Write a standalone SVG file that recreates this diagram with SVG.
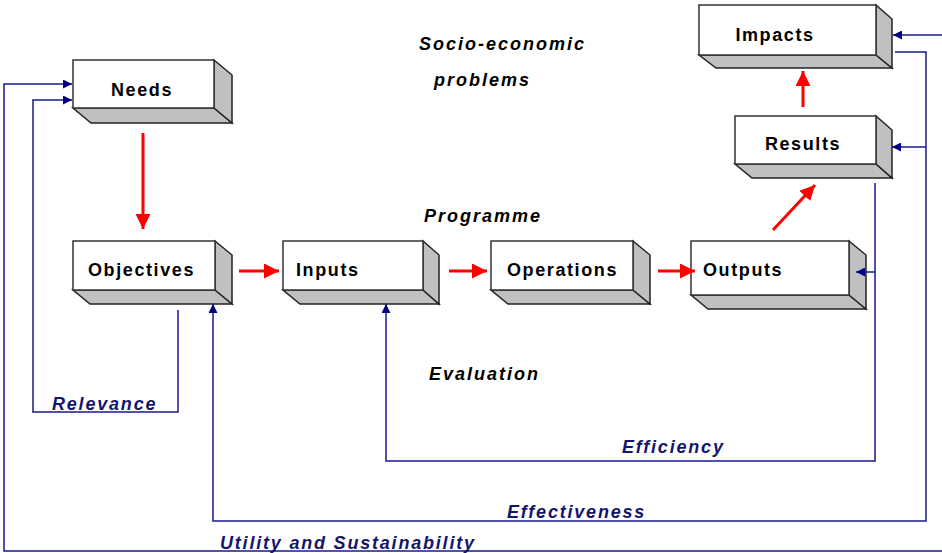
<svg xmlns="http://www.w3.org/2000/svg" width="942" height="553" viewBox="0 0 942 553">
<defs>
<style>
.front{fill:#fff;stroke:#333;stroke-width:1.5}
.side{fill:#c0c0c0;stroke:#222;stroke-width:1.5;stroke-linejoin:miter}
.lbl{font-family:"Liberation Sans",Arial,sans-serif;font-weight:bold;font-size:18px;fill:#000;letter-spacing:1.6px}
.ital{font-family:"Liberation Sans",Arial,sans-serif;font-weight:bold;font-style:italic;font-size:18px;fill:#000;letter-spacing:2px}
.blue{font-family:"Liberation Sans",Arial,sans-serif;font-weight:bold;font-style:italic;font-size:18px;fill:#14146e;letter-spacing:1.8px}
.red{stroke:#f00;stroke-width:3;fill:none}
.nav{stroke:#1a1a8c;stroke-width:1.5;fill:none}
</style>
<marker id="ra" viewBox="0 0 10 10" refX="10" refY="5" markerWidth="5" markerHeight="5" markerUnits="strokeWidth" orient="auto">
<path d="M0,0L10,5L0,10z" fill="#f00"/>
</marker>
<marker id="ba" viewBox="0 0 10 10" refX="10" refY="5" markerWidth="6" markerHeight="6" markerUnits="strokeWidth" orient="auto">
<path d="M0,0L10,5L0,10z" fill="#000080"/>
</marker>
</defs>
<rect width="942" height="553" fill="#fff"/>

<g id="needs">
<polygon class="side" points="73,108 214,108 232,123 91,123"/>
<polygon class="side" points="214,60 232,75 232,123 214,108"/>
<rect class="front" x="73" y="60" width="141" height="48"/>
<text class="lbl" x="142" y="96" text-anchor="middle">Needs</text>
</g>
<g id="objectives">
<polygon class="side" points="73,290 215,290 232,304 90,304"/>
<polygon class="side" points="215,241 232,255 232,304 215,290"/>
<rect class="front" x="73" y="241" width="142" height="49"/>
<text class="lbl" x="88" y="276">Objectives</text>
</g>
<g id="inputs">
<polygon class="side" points="283,290 423,290 439,304 300,304"/>
<polygon class="side" points="423,241 439,255 439,304 423,290"/>
<rect class="front" x="283" y="241" width="140" height="49"/>
<text class="lbl" x="296" y="276">Inputs</text>
</g>
<g id="operations">
<polygon class="side" points="491,290 633,290 650,304 508,304"/>
<polygon class="side" points="633,241 650,255 650,304 633,290"/>
<rect class="front" x="491" y="241" width="142" height="49"/>
<text class="lbl" x="507" y="276">Operations</text>
</g>
<g id="outputs">
<polygon class="side" points="691,295 849,295 866,309 708,309"/>
<polygon class="side" points="849,241 866,255 866,309 849,295"/>
<rect class="front" x="691" y="241" width="158" height="54"/>
<text class="lbl" x="703" y="276">Outputs</text>
</g>
<g id="results">
<polygon class="side" points="735,164 876,164 892,178 752,178"/>
<polygon class="side" points="876,116 892,130 892,178 876,164"/>
<rect class="front" x="735" y="116" width="141" height="48"/>
<text class="lbl" x="803" y="150" text-anchor="middle">Results</text>
</g>
<g id="impacts">
<polygon class="side" points="699,55 876,55 892,68 716,68"/>
<polygon class="side" points="876,5 892,19 892,68 876,55"/>
<rect class="front" x="699" y="5" width="177" height="50"/>
<text class="lbl" x="775" y="41" text-anchor="middle">Impacts</text>
</g>

<g id="titles">
<text class="ital" x="419" y="50">Socio-economic</text>
<text class="ital" x="434" y="86">problems</text>
<text class="ital" x="424" y="222">Programme</text>
<text class="ital" x="429" y="380">Evaluation</text>
</g>

<g id="connectors">
<line class="red" x1="143" y1="133" x2="143" y2="229" marker-end="url(#ra)"/>
<line class="red" x1="239" y1="271" x2="279" y2="271" marker-end="url(#ra)"/>
<line class="red" x1="449" y1="271" x2="487" y2="271" marker-end="url(#ra)"/>
<line class="red" x1="658" y1="271" x2="695" y2="271" marker-end="url(#ra)"/>
<line class="red" x1="773" y1="230" x2="815" y2="185" marker-end="url(#ra)"/>
<line class="red" x1="803" y1="107" x2="803" y2="71" marker-end="url(#ra)"/>

<polyline class="nav" points="178,310 178,412 33,412 33,100 72,100" marker-end="url(#ba)"/>
<polyline class="nav" points="875,183 875,461 386,461 386,304" marker-end="url(#ba)"/>
<line class="nav" x1="875" y1="272" x2="856" y2="272" marker-end="url(#ba)"/>
<polyline class="nav" points="895,52 926,52 926,521 213,521 213,304" marker-end="url(#ba)"/>
<line class="nav" x1="926" y1="147" x2="892" y2="147" marker-end="url(#ba)"/>
<line class="nav" x1="942" y1="35" x2="893" y2="35" marker-end="url(#ba)"/>
<polyline class="nav" points="942,551 4,551 4,84 72,84" marker-end="url(#ba)"/>
</g>

<g id="eval-labels">
<text class="blue" x="52" y="410">Relevance</text>
<text class="blue" x="622" y="453">Efficiency</text>
<text class="blue" x="507" y="518">Effectiveness</text>
<text class="blue" x="220" y="549">Utility and Sustainability</text>
</g>
</svg>
